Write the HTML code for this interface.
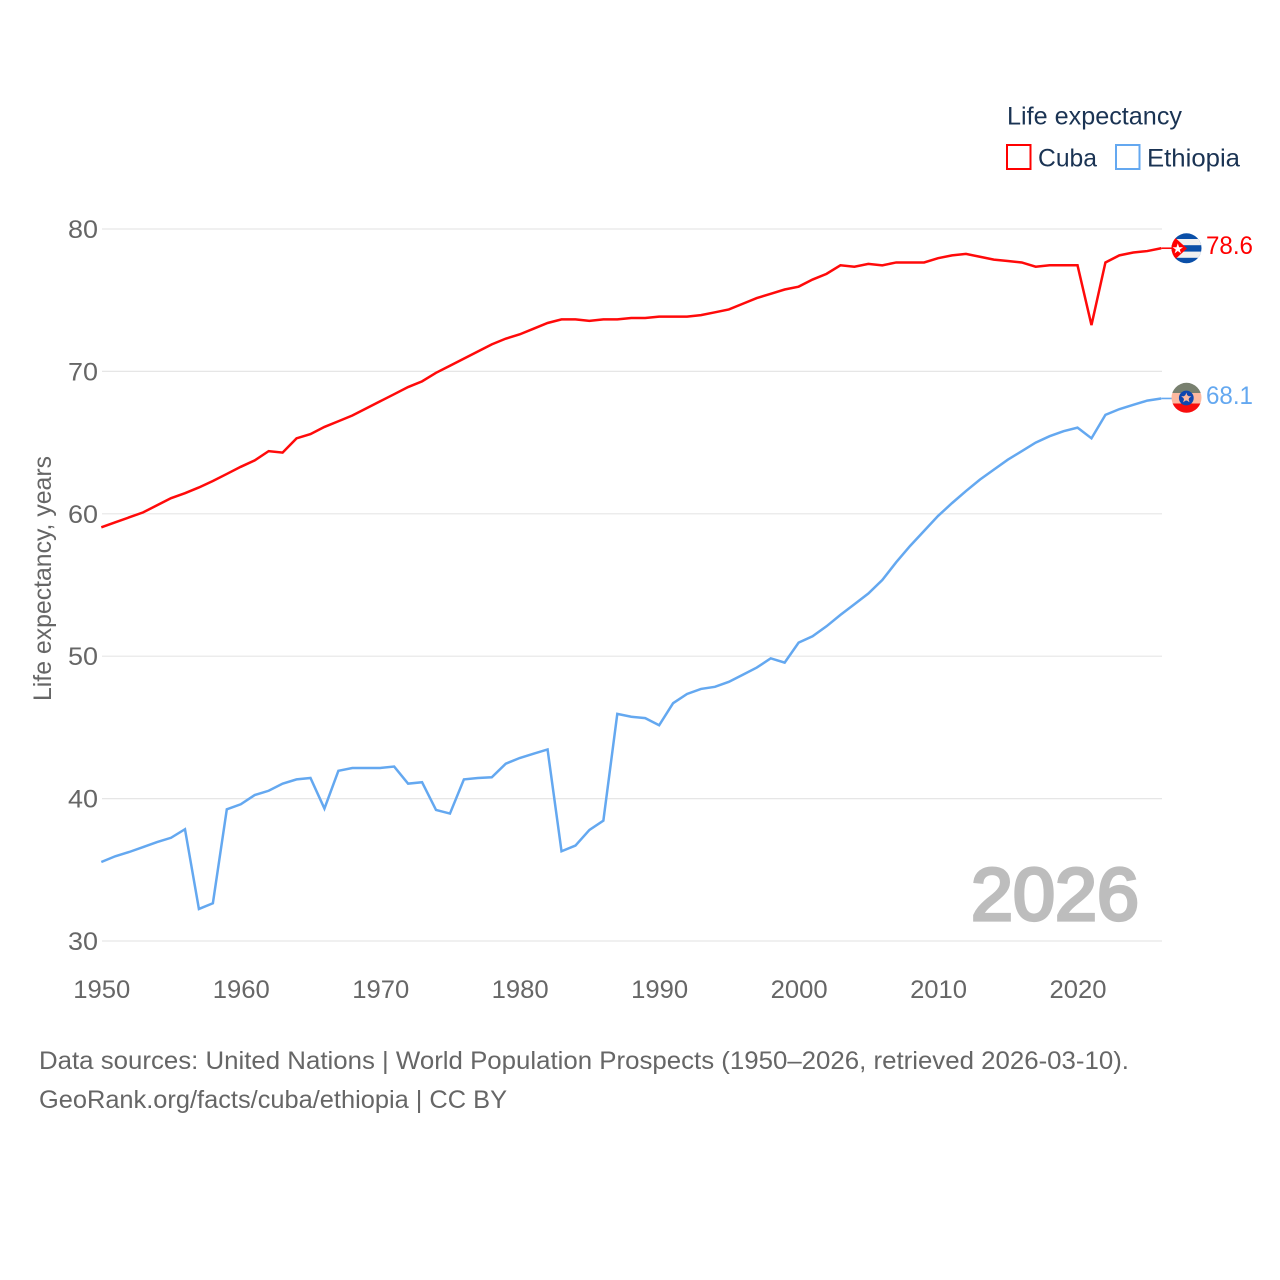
<!DOCTYPE html>
<html lang="en">
<head>
<meta charset="utf-8">
<title>Life expectancy: Cuba and Ethiopia</title>
<style>
html,body{margin:0;padding:0;background:#fff;}
svg{display:block;}
text{font-family:"Liberation Sans",sans-serif;}
</style>
</head>
<body>
<svg id="chart" xmlns="http://www.w3.org/2000/svg" width="1280" height="1280" viewBox="0 0 1280 1280">
  <defs>
    <clipPath id="clip-cuba"><circle cx="1186.5" cy="248.3" r="15"/></clipPath>
    <clipPath id="clip-eth"><circle cx="1186.5" cy="397.8" r="15"/></clipPath>
  </defs>
  <g id="grid"></g>
  <g id="yticks"></g>
  <g id="xticks"></g>
  <text x="51" y="701" transform="rotate(-90 51 701)" font-size="25" fill="#666" textLength="245" lengthAdjust="spacingAndGlyphs">Life expectancy, years</text>
  <text x="971" y="920" font-size="74" fill="#bdbdbd" stroke="#bdbdbd" stroke-width="3.2" textLength="168" lengthAdjust="spacingAndGlyphs">2026</text>
  <g id="lines"></g>

  <g clip-path="url(#clip-cuba)">
    <rect x="1170" y="233" width="33" height="31" fill="#0a4fa8"/>
    <rect x="1170" y="239" width="33" height="6.2" fill="#f0f0f0"/>
    <rect x="1170" y="251.6" width="33" height="6.2" fill="#f0f0f0"/>
    <polygon points="1170,233 1187,248.5 1170,264" fill="#f00"/>
    <polygon points="1177.8,243.4 1179.1,247.2 1183,247.2 1179.8,249.6 1181,253.4 1177.8,251 1174.6,253.4 1175.8,249.6 1172.6,247.2 1176.5,247.2" fill="#fff"/>
  </g>
  <g clip-path="url(#clip-eth)">
    <rect x="1170" y="382" width="33" height="11" fill="#78806f"/>
    <rect x="1170" y="393" width="33" height="10.5" fill="#fdb9a0"/>
    <rect x="1170" y="403.5" width="33" height="11" fill="#f80d0d"/>
    <circle cx="1186.3" cy="398" r="7.4" fill="#0f47af"/>
    <polygon points="1186.3,392.6 1187.6,396.2 1191.4,396.3 1188.4,398.6 1189.5,402.3 1186.3,400.1 1183.1,402.3 1184.2,398.6 1181.2,396.3 1185,396.2" fill="#fdb9a0"/>
    <circle cx="1186.3" cy="397.8" r="2.8" fill="#fdb9a0"/>
  </g>
  <text x="1206" y="254" font-size="25" fill="#f00" textLength="47" lengthAdjust="spacingAndGlyphs">78.6</text>
  <text x="1206" y="404" font-size="25" fill="#64a8f0" textLength="47" lengthAdjust="spacingAndGlyphs">68.1</text>

  <text x="1007" y="124.5" font-size="25" fill="#1a3353" textLength="175" lengthAdjust="spacingAndGlyphs">Life expectancy</text>
  <rect x="1007" y="145" width="23.5" height="24" fill="none" stroke="#f00" stroke-width="2"/>
  <text x="1038" y="166.5" font-size="25" fill="#1a3353" textLength="59" lengthAdjust="spacingAndGlyphs">Cuba</text>
  <rect x="1116" y="145" width="23.5" height="24" fill="none" stroke="#64a8f0" stroke-width="2"/>
  <text x="1147" y="166.5" font-size="25" fill="#1a3353" textLength="93" lengthAdjust="spacingAndGlyphs">Ethiopia</text>

  <text x="39" y="1069" font-size="25" fill="#666" textLength="1090" lengthAdjust="spacingAndGlyphs">Data sources: United Nations | World Population Prospects (1950–2026, retrieved 2026-03-10).</text>
  <text x="39" y="1108" font-size="25" fill="#666" textLength="468" lengthAdjust="spacingAndGlyphs">GeoRank.org/facts/cuba/ethiopia | CC BY</text>
</svg>
<script>
var firstYear = 1950;
var lastYear = 2026;
var yTickValues = [30, 40, 50, 60, 70, 80];
var xTickValues = [1950, 1960, 1970, 1980, 1990, 2000, 2010, 2020];
var cubaValues = [59.05,59.4,59.75,60.1,60.6,61.1,61.45,61.85,62.3,62.8,63.3,63.75,64.4,64.3,65.3,65.6,66.1,66.5,66.9,67.4,67.9,68.4,68.9,69.3,69.9,70.4,70.9,71.4,71.9,72.3,72.6,73.0,73.4,73.65,73.65,73.55,73.65,73.65,73.75,73.75,73.85,73.85,73.85,73.95,74.15,74.35,74.75,75.15,75.45,75.75,75.95,76.45,76.85,77.45,77.35,77.55,77.45,77.65,77.65,77.65,77.95,78.15,78.25,78.05,77.85,77.75,77.65,77.35,77.45,77.45,77.45,73.25,77.65,78.15,78.35,78.45,78.65];
var ethiopiaValues = [35.55,35.95,36.25,36.6,36.95,37.25,37.85,32.25,32.65,39.25,39.6,40.25,40.55,41.05,41.35,41.45,39.3,41.95,42.15,42.15,42.15,42.25,41.05,41.15,39.2,38.95,41.35,41.45,41.5,42.45,42.85,43.15,43.45,36.3,36.7,37.8,38.45,45.95,45.75,45.65,45.15,46.7,47.35,47.7,47.85,48.2,48.7,49.2,49.85,49.55,50.95,51.4,52.1,52.9,53.65,54.4,55.35,56.6,57.75,58.8,59.85,60.75,61.6,62.4,63.1,63.8,64.4,65.0,65.45,65.8,66.05,65.3,66.95,67.35,67.65,67.95,68.1];

var NS = 'http://www.w3.org/2000/svg';
function xScale(year) { return 101.3 + (year - firstYear) * (1161.2 - 101.3) / (lastYear - firstYear); }
function yScale(v) { return 941 - (v - 30) * (941 - 229) / 50; }
function mk(tag, attrs, parent) {
  var el = document.createElementNS(NS, tag);
  for (var k in attrs) el.setAttribute(k, attrs[k]);
  parent.appendChild(el);
  return el;
}
var grid = document.getElementById('grid');
var yticks = document.getElementById('yticks');
var xticks = document.getElementById('xticks');
var lines = document.getElementById('lines');

yTickValues.forEach(function (v) {
  var g = mk('line', {x1: 102, x2: 1162, y1: yScale(v), y2: yScale(v), stroke: '#e6e6e6', 'stroke-width': 1.2}, grid);
  
  
  var t = mk('text', {x: 98, y: yScale(v) + 9, 'text-anchor': 'end', 'font-size': 25, fill: '#666', textLength: 30, lengthAdjust: 'spacingAndGlyphs'}, yticks);
  
  
  t.textContent = v;
});
xTickValues.forEach(function (v) {
  var t = mk('text', {x: xScale(v) + 0.5, y: 998, 'text-anchor': 'middle', 'font-size': 25, fill: '#666', textLength: 57, lengthAdjust: 'spacingAndGlyphs'}, xticks);
  
  
  t.textContent = v;
});
function drawSeries(values, color, name) {
  var pts = values.map(function (v, i) { return xScale(firstYear + i).toFixed(2) + ',' + yScale(v).toFixed(2); });
  var last = values[values.length - 1];
  var p = mk('polyline', {points: pts.join(' '), fill: 'none', stroke: color, 'stroke-width': 2.5, 'stroke-linejoin': 'miter'}, lines);
  
  
  var c = mk('line', {x1: xScale(lastYear), x2: 1172, y1: yScale(last), y2: yScale(last), stroke: color, 'stroke-width': 1.6}, lines);
  
  
}
drawSeries(cubaValues, '#ff0a0a', 'cuba-line');
drawSeries(ethiopiaValues, '#64a8f0', 'ethiopia-line');
</script>
</body>
</html>
